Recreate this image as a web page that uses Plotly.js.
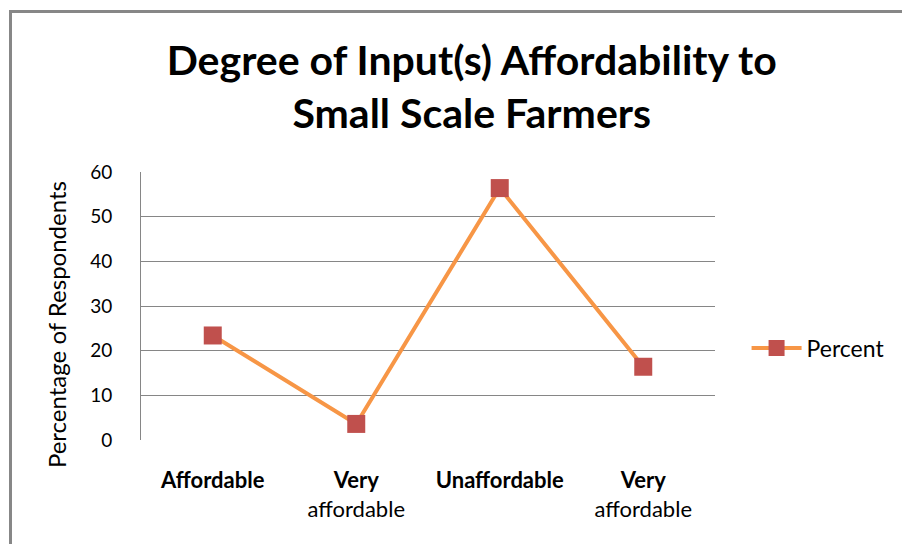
<!DOCTYPE html>
<html>
<head>
<meta charset="utf-8">
<script src="https://cdn.plot.ly/plotly-3.0.1.min.js"></script>
<style>
  html, body { margin: 0; padding: 0; background: #ffffff; }
  #wrap { position: relative; width: 902px; height: 544px; overflow: hidden; }
  #chart { position: absolute; left: 0; top: 0; width: 902px; height: 544px; }
  #frame { position: absolute; left: 9px; top: 10px; width: 910px; height: 560px;
           border-left: 3px solid #878787; border-top: 3px solid #878787; pointer-events: none; }
</style>
</head>
<body>
<div id="wrap">
  <div id="chart"></div>
  <div id="frame"></div>
</div>
<script>
const categories = ["Affordable", "Very affordable", "Unaffordable", "Very affordable"];
const tickLabels = ["<b>Affordable</b>", "<b>Very</b><br>affordable", "<b>Unaffordable</b>", "<b>Very</b><br>affordable"];
const percentValues = [23.4, 3.6, 56.4, 16.4];
const seriesName = "Percent";
const yTicks = [0, 10, 20, 30, 40, 50, 60];

const positions = categories.map((c, i) => i);

const FONT = "Lato, 'Open Sans', 'DejaVu Sans', sans-serif";

const trace = {
  type: "scatter",
  mode: "lines+markers",
  name: seriesName,
  x: positions,
  y: percentValues,
  line: { color: "#F79646", width: 4 },
  marker: { symbol: "square", size: 18, color: "#C0504D", line: { width: 0 } }
};

const layout = {
  width: 902,
  height: 544,
  paper_bgcolor: "#ffffff",
  plot_bgcolor: "#ffffff",
  margin: { l: 141, r: 185, t: 172, b: 104, pad: 0 },
  title: {
    text: "<b>Degree of Input(s) Affordability to<br>Small Scale Farmers</b>",
    font: { family: FONT, size: 41, color: "#000000" },
    x: 0.523, xanchor: "center", xref: "container",
    y: 0.862, yanchor: "top", yref: "container"
  },
  xaxis: {
    range: [-0.5, 3.5],
    tickmode: "array",
    tickvals: positions,
    ticktext: tickLabels,
    showgrid: false,
    zeroline: false,
    showline: true,
    linecolor: "#ffffff",
    linewidth: 2,
    ticks: "",
    ticklabelstandoff: 20,
    tickfont: { family: FONT, size: 22, color: "#000000" },
    fixedrange: true
  },
  yaxis: {
    range: [0, 60],
    tickmode: "array",
    tickvals: yTicks,
    ticktext: yTicks.map(String),
    showgrid: true,
    gridcolor: "#868686",
    gridwidth: 1,
    zeroline: false,
    showline: true,
    linecolor: "#868686",
    linewidth: 1,
    ticks: "",
    ticklabelstandoff: 24,
    tickfont: { family: FONT, size: 19, color: "#000000" },
    fixedrange: true
  },
  annotations: [{
    text: "Percentage of Respondents",
    xref: "paper", yref: "paper",
    x: -0.148, y: 0.429,
    xanchor: "center", yanchor: "middle",
    textangle: -90,
    showarrow: false,
    font: { family: FONT, size: 24, color: "#000000" }
  }],
  showlegend: true,
  legend: {
    x: 1.055, xanchor: "left",
    y: 0.343, yanchor: "middle",
    font: { family: FONT, size: 23, color: "#000000" },
    bgcolor: "rgba(0,0,0,0)",
    itemwidth: 50
  }
};

Plotly.newPlot("chart", [trace], layout, { displayModeBar: false, staticPlot: true });
</script>
</body>
</html>
